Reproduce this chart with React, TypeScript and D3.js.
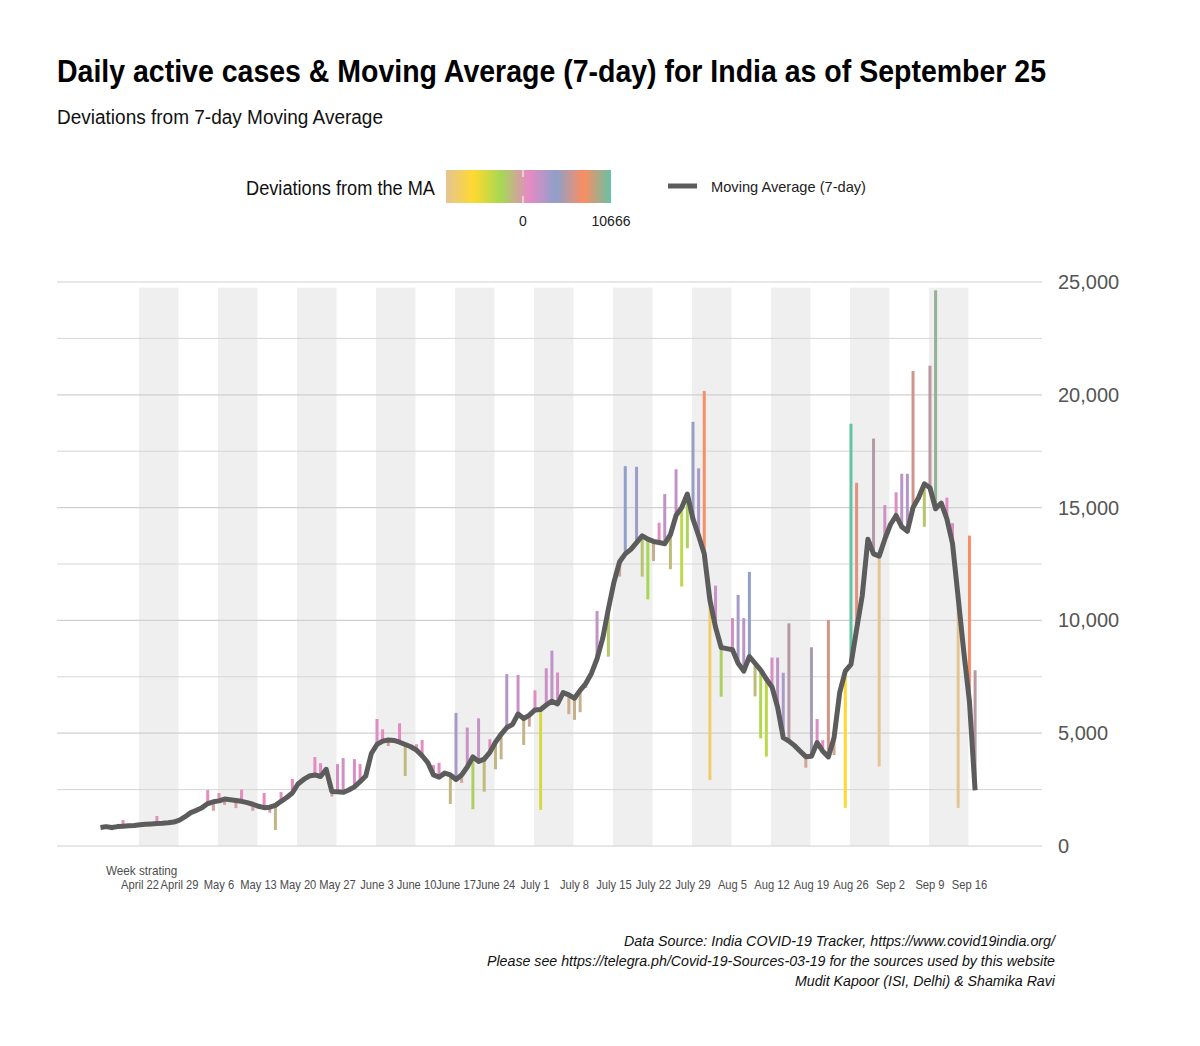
import React from "react";
import * as d3 from "d3";

// ---- data (daily, starting April 15) ----
const maValues: number[] = [
  820, 860, 820, 860, 880, 900, 910,
  940, 960, 980, 1000, 1010, 1030, 1060,
  1150, 1300, 1480, 1580, 1700, 1880, 1960,
  2000, 2080, 2050, 2020, 1980, 1920, 1850,
  1760, 1700, 1720, 1800, 1980, 2150, 2350,
  2750, 2950, 3100, 3150, 3080, 3400, 2420,
  2400, 2380, 2480, 2620, 2850, 3100, 4100,
  4500, 4650, 4700, 4680, 4600, 4500, 4400,
  4250, 4000, 3700, 3150, 3050, 3230, 3150,
  2950, 3150, 3500, 3950, 3750, 3850, 4150,
  4600, 4950, 5250, 5380, 5850, 5650, 5800,
  6030, 6050, 6250, 6420, 6300, 6800, 6700,
  6550, 6900, 7200, 7650, 8300, 9200, 10500,
  11700, 12600, 12950, 13150, 13450, 13750, 13600,
  13500, 13450, 13400, 13800, 14650, 15000, 15600,
  14500, 13750, 12950, 10900, 9700, 8800, 8750,
  8700, 8100, 7750, 8400, 8100, 7800, 7400,
  7050, 6150, 4800, 4650, 4450, 4200, 3960,
  3980, 4580, 4200, 3950, 4800, 6800, 7750,
  8050, 9600, 11100, 13600, 12950, 12850, 13600,
  14250, 14650, 14150, 13950, 15000, 15450, 16050,
  15880, 14950, 15200, 14500, 13400, 11000, 8600,
  6400, 2470,
];

const dailyValues: number[] = [
  820, 870, 700, 870, 1150, 910, 920,
  950, 970, 990, 1330, 1020, 1040, 1070,
  1160, 1320, 1500, 1600, 1720, 2480, 1560,
  2350, 1820, 2080, 1680, 2500, 1950, 1560,
  1780, 2350, 1480, 710, 2390, 2170, 2970,
  2760, 2850, 3150, 3940, 3670, 3420, 2190,
  3630, 3900, 2500, 3850, 3630, 3150, 4150,
  5630, 5170, 4430, 4700, 5440, 3100, 4400,
  4510, 4700, 3700, 3590, 3690, 3230, 1860,
  5900, 2800, 5250, 1630, 5660, 2410, 4730,
  3400, 3840, 7620, 5450, 7580, 4480, 5290,
  6900, 1600, 7880, 8660, 7690, 6850, 5840,
  5590, 5930, 7000, 7800, 10420, 9300, 8390,
  11750, 11940, 16840, 13200, 16810, 11940, 10930,
  12630, 14330, 15600, 12270, 16700, 11500, 13200,
  18800, 16740, 20170, 2920, 11540, 6620, 8750,
  10100, 11130, 10100, 12150, 6630, 4770, 3960,
  8350, 8350, 7680, 9870, 4450, 4200, 3470,
  8810, 5630, 4690, 10020, 4030, 6800, 1690,
  18716, 16100, 11100, 13600, 18060, 3520, 15110,
  14250, 15680, 16500, 16500, 21050, 15450, 14150,
  21290, 24630, 15200, 15440, 14310, 1690, 8600,
  13760, 7790,
];

const weekLabels: string[] = [
  "April 22", "April 29", "May 6", "May 13", "May 20", "May 27", "June 3",
  "June 10", "June 17", "June 24", "July 1", "July 8", "July 15", "July 22",
  "July 29", "Aug 5", "Aug 12", "Aug 19", "Aug 26", "Sep 2", "Sep 9", "Sep 16",
];
const firstWeekStartIndex = 7; // April 22 is day 7 after April 15
const yTicks: number[] = [0, 5000, 10000, 15000, 20000, 25000];
const yMinorTicks: number[] = [2500, 7500, 12500, 17500, 22500];
const paletteColors: string[] = ["#e5c494", "#ffd92f", "#a6d854", "#e78ac3", "#8da0cb", "#fc8d62", "#66c2a5"];

const NARROW = "'Liberation Sans Narrow','Arial Narrow','Nimbus Sans Narrow','Liberation Sans',sans-serif";

export default function App() {
  const W = 1200, H = 1046;
  const plotLeft = 57, plotRight = 1042;
  const x = d3.scaleLinear().domain([0, maValues.length - 1]).range([100.5, 975.1]);
  const y = d3.scaleLinear().domain([0, 25000]).range([846, 282]);

  const devs = dailyValues.map((v, i) => v - maValues[i]);
  const dMin = d3.min(devs) as number;
  const dMax = d3.max(devs) as number;
  const color = d3
    .scaleLinear<string>()
    .domain(paletteColors.map((_, i) => dMin + (i * (dMax - dMin)) / (paletteColors.length - 1)))
    .range(paletteColors)
    .interpolate(d3.interpolateRgb);

  const line = d3
    .line<number>()
    .x((_, i) => x(i))
    .y((v) => y(v));

  const dayWidth = x(1) - x(0);
  const bands = weekLabels
    .map((_, i) => i)
    .filter((i) => i % 2 === 0 && i < weekLabels.length - 1)
    .map((i) => firstWeekStartIndex + i * 7);

  // legend scale
  const legX0 = 446, legX1 = 611;
  const legScale = d3.scaleLinear().domain([dMin, dMax]).range([legX0, legX1]);

  return (
    <svg
      width={W}
      height={H}
      style={{ display: "block", background: "#fff", position: "absolute", left: 0, top: 0 }}
      xmlns="http://www.w3.org/2000/svg"
    >
      <defs>
        <linearGradient id="devGrad" x1="0" x2="1" y1="0" y2="0">
          {paletteColors.map((c, i) => (
            <stop key={i} offset={i / (paletteColors.length - 1)} stopColor={c} />
          ))}
        </linearGradient>
      </defs>
      {/* Title */}
      <text x={57} y={82} fontFamily={NARROW} fontWeight="bold" fontSize={32} fill="#000" textLength={989} lengthAdjust="spacingAndGlyphs">
        Daily active cases &amp; Moving Average (7-day) for India as of September 25
      </text>
      <text x={57} y={124} fontFamily={NARROW} fontSize={20} fill="#111" textLength={326} lengthAdjust="spacingAndGlyphs">
        Deviations from 7-day Moving Average
      </text>

      {/* Legend */}
      <text x={246} y={195} fontFamily={NARROW} fontSize={20} fill="#111" textLength={189} lengthAdjust="spacingAndGlyphs">
        Deviations from the MA
      </text>
      <rect x={legX0} y={170} width={legX1 - legX0} height={33} fill="url(#devGrad)" />
      <line x1={legScale(0)} x2={legScale(0)} y1={170} y2={177} stroke="#fff" strokeWidth={1} />
      <line x1={legScale(0)} x2={legScale(0)} y1={196} y2={203} stroke="#fff" strokeWidth={1} />
      <text x={legScale(0)} y={226} textAnchor="middle" fontFamily={NARROW} fontSize={14} fill="#222">0</text>
      <text x={legScale(dMax)} y={226} textAnchor="middle" fontFamily={NARROW} fontSize={14} fill="#222">{Math.round(dMax)}</text>
      <line x1={668} x2={697} y1={186} y2={186} stroke="#5c5c5c" strokeWidth={5} />
      <text x={711} y={192} fontFamily={NARROW} fontSize={15} fill="#222" textLength={155} lengthAdjust="spacingAndGlyphs">
        Moving Average (7-day)
      </text>

      {/* Week bands */}
      {bands.map((d) => (
        <rect key={d} x={x(d) - 1} y={y(24750)} width={dayWidth * 7} height={y(0) - y(24750)} fill="#efefef" />
      ))}

      {/* Grid */}
      {yMinorTicks.map((t) => (
        <line key={"m" + t} x1={plotLeft} x2={plotRight} y1={y(t)} y2={y(t)} stroke="#d6d6d6" strokeWidth={1} />
      ))}
      {yTicks.map((t) => (
        <line key={"g" + t} x1={plotLeft} x2={plotRight} y1={y(t)} y2={y(t)} stroke="#d0d0d0" strokeWidth={1.2} />
      ))}
      {yTicks.map((t) => (
        <text key={"t" + t} x={1058} y={y(t) + 7} fontFamily={NARROW} fontSize={20} fill="#555">
          {d3.format(",")(t)}
        </text>
      ))}

      {/* Deviation bars */}
      {dailyValues.map((v, i) => (
        <line
          key={"b" + i}
          x1={x(i)}
          x2={x(i)}
          y1={y(maValues[i])}
          y2={y(v)}
          stroke={color(devs[i])}
          strokeWidth={3}
        />
      ))}

      {/* Moving average */}
      <path d={line(maValues) || ""} fill="none" stroke="#5c5c5c" strokeWidth={5} strokeLinejoin="round" strokeLinecap="butt" />

      {/* X axis labels */}
      <text transform="translate(106,875) scale(0.9,1)" fontFamily={NARROW} fontSize={13} fill="#4d4d4d">Week strating</text>
      {weekLabels.map((lab, i) => (
        <text
          key={lab}
          transform={`translate(${x(firstWeekStartIndex + i * 7)},889) scale(0.84,1)`}
          textAnchor="middle"
          fontFamily={NARROW}
          fontSize={13.3}
          fill="#4d4d4d"
        >
          {lab}
        </text>
      ))}

      {/* Caption */}
      <text x={1055} y={946} textAnchor="end" fontFamily={NARROW} fontStyle="italic" fontSize={15.5} fill="#111" textLength={431} lengthAdjust="spacingAndGlyphs">
        Data Source: India COVID-19 Tracker, https://www.covid19india.org/
      </text>
      <text x={1055} y={966} textAnchor="end" fontFamily={NARROW} fontStyle="italic" fontSize={15.5} fill="#111" textLength={568} lengthAdjust="spacingAndGlyphs">
        Please see https://telegra.ph/Covid-19-Sources-03-19 for the sources used by this website
      </text>
      <text x={1055} y={986} textAnchor="end" fontFamily={NARROW} fontStyle="italic" fontSize={15.5} fill="#111" textLength={260} lengthAdjust="spacingAndGlyphs">
        Mudit Kapoor (ISI, Delhi) &amp; Shamika Ravi
      </text>
    </svg>
  );
}
